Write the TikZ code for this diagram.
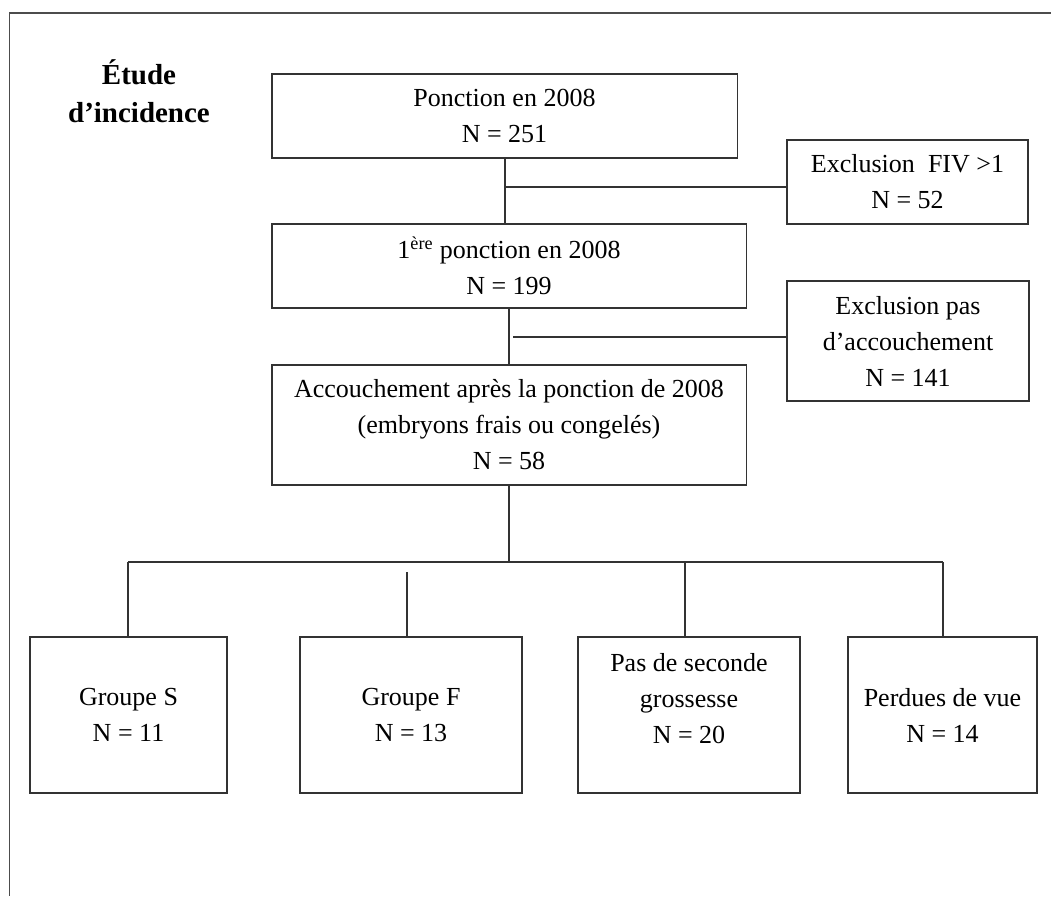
\documentclass[tikz,border=0pt]{standalone}
\usepackage{fontspec}
\setmainfont{Liberation Serif}
\begin{document}
\begin{tikzpicture}[x=0.025cm, y=-0.025cm, line width=0.8pt,
    box/.style={draw=black!80, align=center, inner sep=0pt, font=\fontsize{18.5}{25.6}\selectfont},
    groupe/.style={box, minimum height=3.9cm},
    link/.style={draw=black!80}]
    \useasboundingbox (0,0) rectangle (1051,896);
    \draw[black!70, line width=1.2pt] (1051,13) -- (9.5,13) -- (9.5,896);

    \node[align=center, inner sep=0pt, font=\bfseries\fontsize{20.6}{27}\selectfont] (titre) at (139,91) {Étude\\d’incidence};

    \node[box, minimum width=11.625cm, minimum height=2.1cm] (p1) at (504.5,116) {Ponction en 2008\\N = 251};
    \node[box, minimum width=6.025cm, minimum height=2.1cm] (ex1) at (907.5,182) {Exclusion\ \ FIV >1\\N = 52};
    \node[box, minimum width=11.85cm, minimum height=2.1cm] (p2) at (509,266) {1\textsuperscript{ère} ponction en 2008\\N = 199};
    \node[box, minimum width=6.05cm, minimum height=3cm] (ex2) at (908,341) {Exclusion pas\\d’accouchement\\N = 141};
    \node[box, minimum width=11.85cm, minimum height=3cm] (p3) at (509,425) {Accouchement après la ponction de 2008\\(embryons frais ou congelés)\\N = 58};

    \node[groupe, minimum width=4.925cm] (g1) at (128.5,715) {Groupe S\\N = 11};
    \node[groupe, minimum width=5.55cm] (g2) at (411,715) {Groupe F\\N = 13};
    \node[groupe, minimum width=5.55cm, text depth=24pt] (g3) at (689,715) {Pas de seconde\\grossesse\\N = 20};
    \node[groupe, minimum width=4.725cm] (g4) at (942.5,715) {Perdues de vue\\N = 14};

    \coordinate (c1) at (505,187);
    \coordinate (c2) at (513,337);
    \coordinate (d1) at (128,562);
    \coordinate (d2) at (407,572);
    \coordinate (d3) at (685,562);
    \coordinate (d4) at (943,562);

    \draw[link] (p1.south -| c1) -- (p2.north -| c1);
    \draw[link] (c1) -- (c1 -| ex1.west);
    \draw[link] (p2.south) -- (p3.north);
    \draw[link] (c2) -- (c2 -| ex2.west);
    \draw[link] (p3.south) -- (p3.south |- d1);
    \draw[link] (d1) -- (d4);
    \foreach \i in {1,...,4}
        \draw[link] (d\i) -- (d\i |- g\i.north);
\end{tikzpicture}
\end{document}
